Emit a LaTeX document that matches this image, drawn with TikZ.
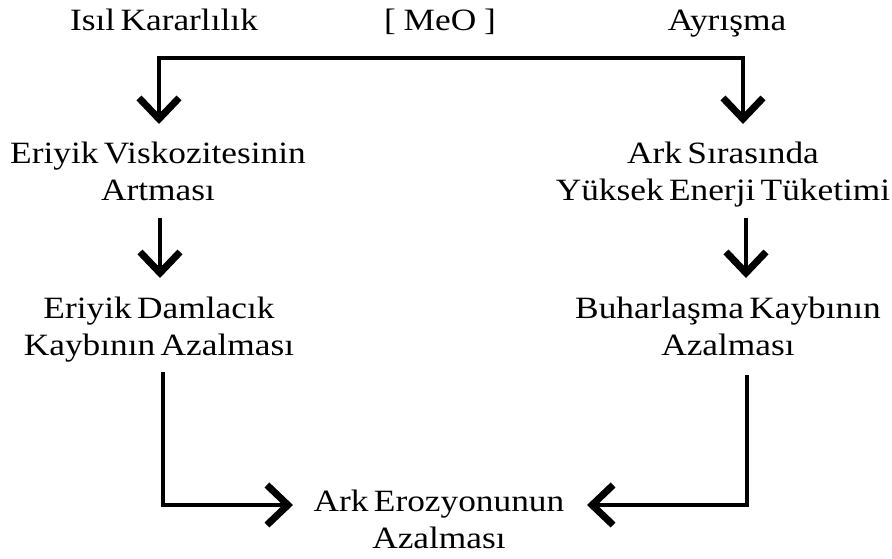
\documentclass[tikz,border=0pt]{standalone}
\usepackage{fontspec}
\setmainfont[FakeStretch=1.14,WordSpace=0.6]{Liberation Serif}
\usetikzlibrary{arrows.meta}
\begin{document}
\begin{tikzpicture}[x=1pt,y=-1pt,
  lbl/.style={inner sep=0pt,anchor=base,align=center,font=\fontsize{31}{37}\selectfont},
  conn/.style={line width=4.5pt,line join=miter,-{Straight Barb[length=21pt,width=40pt,line width=7pt]}}]
\useasboundingbox (0,0) rectangle (892,558);
% top labels
\node[lbl] (isil) at (164,30) {Isıl Kararlılık};
\node[lbl] (meo) at (440,30) {[\hspace{0.25em}MeO\hspace{0.25em}]};
\node[lbl] (ayr) at (727,30) {Ayrışma};
% boxes (anchored at baseline of last line)
\node[lbl] (visc) at (158,200) {Eriyik Viskozitesinin\\Artması};
\node[lbl] (enj) at (723,200) {Ark Sırasında\\Yüksek Enerji Tüketimi};
\node[lbl] (damla) at (159,355) {Eriyik Damlacık\\Kaybının Azalması};
\node[lbl] (buhar) at (728,355) {Buharlaşma Kaybının\\Azalması};
\node[lbl] (eroz) at (439,548) {Ark Erozyonunun\\Azalması};
% connector points
\coordinate (tm) at (450,58);
\coordinate (t1) at (159,124);
\coordinate (t2) at (743,124);
\coordinate (m1s) at (160,218);
\coordinate (m1e) at (160,278);
\coordinate (m2s) at (746,218);
\coordinate (m2e) at (746,278);
\coordinate (b1s) at (163,372);
\coordinate (b1e) at (293,505);
\coordinate (b2s) at (747,375);
\coordinate (b2e) at (587,505);
\draw[conn] (tm) -| (t1);
\draw[conn] (tm) -| (t2);
\draw[conn] (m1s) -- (m1e);
\draw[conn] (m2s) -- (m2e);
\draw[conn] (b1s) |- (b1e);
\draw[conn] (b2s) |- (b2e);
\end{tikzpicture}
\end{document}
